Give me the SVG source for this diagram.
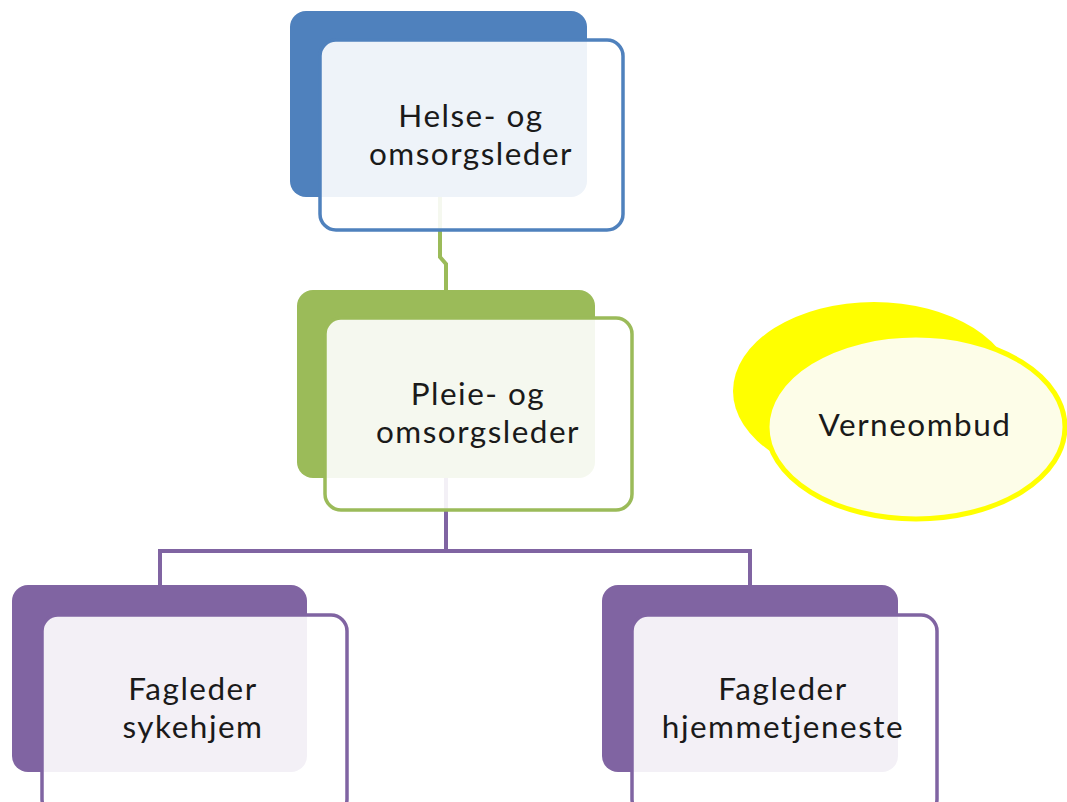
<svg xmlns="http://www.w3.org/2000/svg" width="1067" height="802" viewBox="0 0 1067 802">
<style>
.front{fill:#ffffff;fill-opacity:0.9;stroke-width:3.5}
.lbl{font-family:Lato,"Liberation Sans",sans-serif;font-size:31.5px;letter-spacing:1.5px;fill:#1a1a1a;text-anchor:middle}
.conn{fill:none;stroke-width:4}
</style>
<rect width="1067" height="802" fill="#ffffff"/>
<g id="connectors">
<path class="conn" stroke="#9BBB59" d="M440,197 V257 L446,264 V292"/>
<path class="conn" stroke="#8064A2" d="M446,478 V551 M160,551 H750 M160,549 V587 M750,549 V587"/>
</g>
<g id="node-helse">
<rect x="290" y="11" width="297" height="186" rx="16" fill="#4F81BD"/>
<rect class="front" x="320" y="40" width="303" height="190" rx="16" stroke="#4F81BD"/>
<text class="lbl" x="471" y="127">Helse- og</text>
<text class="lbl" x="471" y="165">omsorgsleder</text>
</g>
<g id="node-pleie">
<rect x="297" y="290" width="298" height="188" rx="16" fill="#9BBB59"/>
<rect class="front" x="325" y="318" width="307" height="192" rx="16" stroke="#9BBB59"/>
<text class="lbl" x="478" y="405">Pleie- og</text>
<text class="lbl" x="478" y="443">omsorgsleder</text>
</g>
<g id="node-verneombud">
<ellipse cx="874" cy="391" rx="141" ry="89" fill="#FFFF00"/>
<ellipse cx="916" cy="427" rx="149" ry="92" fill="#FDFDE8" stroke="#FFFF00" stroke-width="5"/>
<text class="lbl" x="915" y="436">Verneombud</text>
</g>
<g id="node-sykehjem">
<rect x="12" y="585" width="295" height="187" rx="16" fill="#8064A2"/>
<rect class="front" x="42" y="615" width="305" height="200" rx="16" stroke="#8064A2"/>
<text class="lbl" x="193" y="700">Fagleder</text>
<text class="lbl" x="193" y="738">sykehjem</text>
</g>
<g id="node-hjemmetjeneste">
<rect x="602" y="585" width="296" height="187" rx="16" fill="#8064A2"/>
<rect class="front" x="632" y="615" width="305" height="200" rx="16" stroke="#8064A2"/>
<text class="lbl" x="783" y="700">Fagleder</text>
<text class="lbl" x="783" y="738">hjemmetjeneste</text>
</g>
</svg>
